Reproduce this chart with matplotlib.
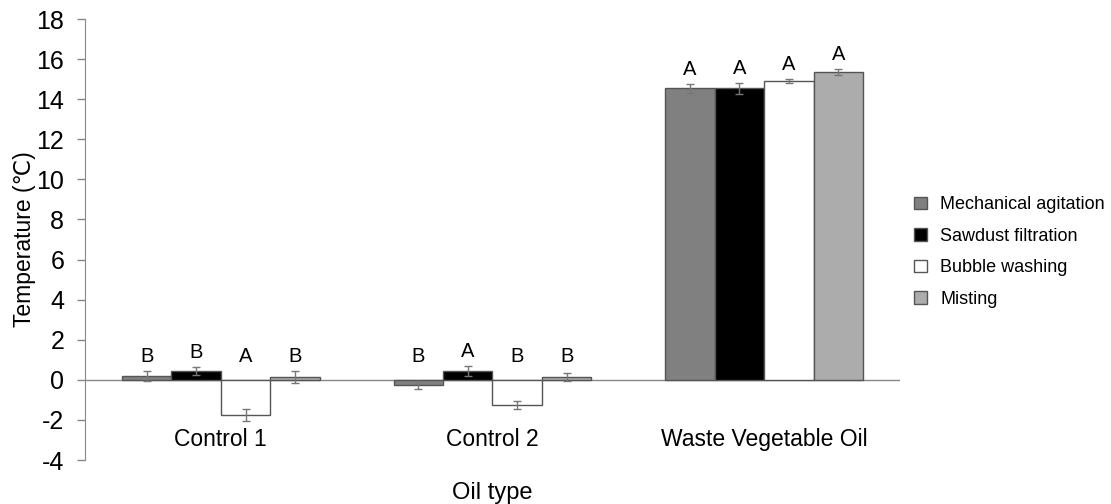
import numpy as np
import matplotlib
matplotlib.use('Agg')
import matplotlib.pyplot as plt

plt.rcParams['font.family'] = ['Liberation Sans', 'DejaVu Sans']
plt.rcParams['axes.unicode_minus'] = False

# oil types and treatment methods
oil_types = ['Control 1', 'Control 2', 'Waste Vegetable Oil']
methods = ['Mechanical agitation', 'Sawdust filtration', 'Bubble washing', 'Misting']
colors = ['#808080', '#000000', '#ffffff', '#acacac']

# mean temperature (℃) per method, one list per method over oil types
means = {
    'Mechanical agitation': [0.2, -0.25, 14.55],
    'Sawdust filtration': [0.45, 0.45, 14.55],
    'Bubble washing': [-1.75, -1.25, 14.9],
    'Misting': [0.15, 0.15, 15.35],
}
errors = {
    'Mechanical agitation': [0.25, 0.2, 0.22],
    'Sawdust filtration': [0.2, 0.25, 0.28],
    'Bubble washing': [0.3, 0.2, 0.1],
    'Misting': [0.3, 0.2, 0.15],
}
# significance letters
letters = {
    'Mechanical agitation': ['B', 'B', 'A'],
    'Sawdust filtration': ['B', 'A', 'A'],
    'Bubble washing': ['A', 'B', 'A'],
    'Misting': ['B', 'B', 'A'],
}

fig = plt.figure(figsize=(11.11, 5.04), dpi=100)
ax = fig.add_axes([0.0765, 0.0873, 0.7335, 0.875])

x = np.arange(len(oil_types))
w = 0.182
for i, m in enumerate(methods):
    pos = x + (i - 1.5) * w
    ax.bar(pos, means[m], w, color=colors[i], edgecolor='#555555',
           linewidth=1.0, label=m, zorder=2)
    ax.errorbar(pos, means[m], yerr=errors[m], fmt='none', ecolor='#777777',
                elinewidth=1.0, capsize=3, capthick=1.0, zorder=3)
    for p, v, e, t in zip(pos, means[m], errors[m], letters[m]):
        top = max(v + e, 0.45)
        ax.text(p, top + 0.25, t, ha='center', va='bottom', fontsize=14.5)

ax.axhline(0, color='#888888', linewidth=1.0, zorder=1)

ax.set_xlim(-0.5, 2.5)
ax.set_ylim(-4, 18)
ax.set_yticks(np.arange(-4, 19, 2))
ax.set_xticks([])
ax.tick_params(axis='y', labelsize=18, length=6, pad=9, color='#888888', width=1.0)
for s in ['top', 'right', 'bottom']:
    ax.spines[s].set_visible(False)
ax.spines['left'].set_color('#888888')

for xi, name in zip(x, oil_types):
    ax.text(xi, -3, name, ha='center', va='center', fontsize=16.5)

ax.set_ylabel('Temperature (℃)', fontsize=16.5, labelpad=0)
ax.set_xlabel('Oil type', fontsize=17, labelpad=16)

ax.legend(loc='center left', bbox_to_anchor=(0.808, 0.5), bbox_transform=fig.transFigure,
          frameon=False, fontsize=13, handlelength=0.7, handleheight=0.7,
          labelspacing=0.8, handletextpad=0.75)

plt.savefig('out.png', dpi=100)
